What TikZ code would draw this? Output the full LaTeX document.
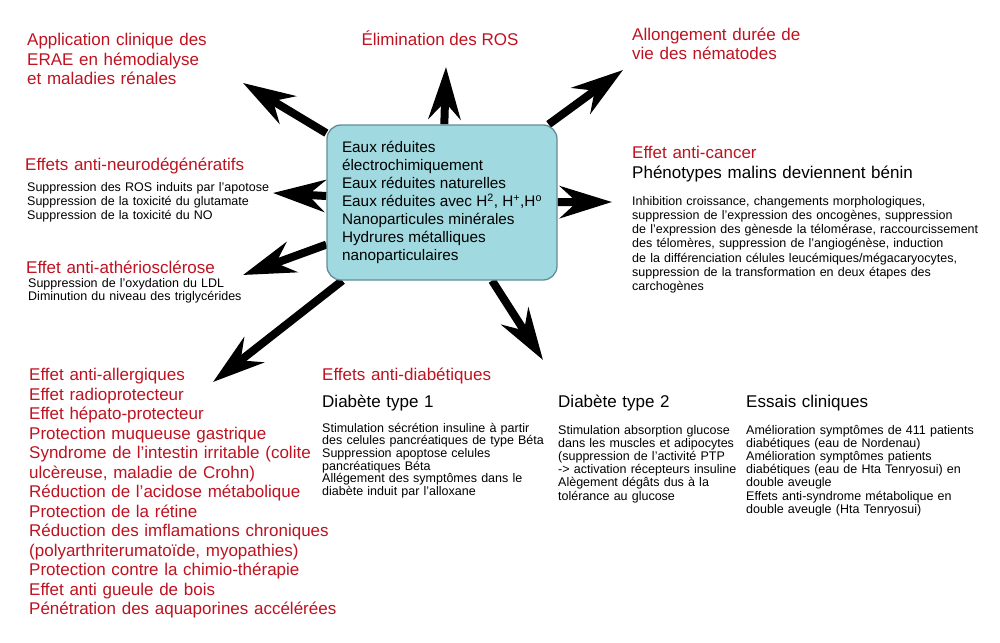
\documentclass[tikz,border=0pt]{standalone}
\usepackage{fontspec}
\setmainfont{Liberation Sans}
\usetikzlibrary{arrows.meta,backgrounds}
\definecolor{rougeeffet}{RGB}{190,18,32}
\definecolor{cyanboite}{RGB}{160,218,224}
\definecolor{bordboite}{RGB}{100,140,150}

\begin{document}
\begin{tikzpicture}[x=1pt, y=-1pt,
    every node/.style={inner sep=0pt},
    bloc/.style={anchor=base west, text width=420pt, align=left},
    titre/.style={bloc, text=rougeeffet, font=\fontsize{17}{19.5}\selectfont},
    soustitre/.style={bloc, font=\fontsize{17}{19}\selectfont},
    corps/.style={bloc, font=\fontsize{12.5}{12.7}\selectfont},
    boite/.style={draw=bordboite, line width=1.3pt, fill=cyanboite, rounded corners=14pt,
        inner xsep=14pt, inner ysep=0pt, align=left,
        minimum width=230pt, minimum height=155pt, font=\fontsize{15.3}{18}\selectfont},
    fleche/.style={-{Stealth[length=52pt, width=32pt, inset=17pt]}, line width=8pt}]
    \useasboundingbox (0,0) rectangle (1000,642);

    % source
    \node[boite] (src) at (442,202.5) {Eaux réduites\\ électrochimiquement\\ Eaux réduites naturelles\\
        Eaux réduites avec H\textsuperscript{2}, H\textsuperscript{+},H\textsuperscript{o}\\
        Nanoparticules minérales\\ Hydrures métalliques\\ nanoparticulaires};

    % effets
    \node[titre] (appli) at (27,45.5) {Application clinique des\\ ERAE en hémodialyse\\ et maladies rénales};
    \node[titre, anchor=base, text width=] (elim) at (440,45.5) {Élimination des ROS};
    \node[titre] (allong) at (632,40.5) {Allongement durée de\\ vie des nématodes};

    \node[titre] (neuro) at (25,170.5) {Effets anti-neurodégénératifs};
    \node[corps, font=\fontsize{12.5}{14}\selectfont] (neuro-txt) at (27,191) {Suppression des ROS induits par l'apotose\\
        Suppression de la toxicité du glutamate\\ Suppression de la toxicité du NO};

    \node[titre] (athero) at (26,273.5) {Effet anti-athériosclérose};
    \node[corps, font=\fontsize{12.5}{13.5}\selectfont] (athero-txt) at (28,287) {Suppression de l'oxydation du LDL\\
        Diminution du niveau des triglycérides};

    \node[titre] (cancer) at (632,158.5) {Effet anti-cancer};
    \node[soustitre] (cancer-sous) at (632,178.5) {Phénotypes malins deviennent bénin};
    \node[corps, font=\fontsize{12.5}{14.3}\selectfont] (cancer-txt) at (632,205) {Inhibition croissance, changements morphologiques,\\
        suppression de l'expression des oncogènes, suppression\\
        de l'expression des gènesde la télomérase, raccourcissement\\
        des télomères, suppression de l'angiogénèse, induction\\
        de la différenciation célules leucémiques/mégacaryocytes,\\
        suppression de la transformation en deux étapes des\\ carchogènes};

    \node[titre] (allerg) at (29,380.5) {Effet anti-allergiques\\ Effet radioprotecteur\\ Effet hépato-protecteur\\
        Protection muqueuse gastrique\\ Syndrome de l’intestin irritable (colite\\ ulcèreuse, maladie de Crohn)\\
        Réduction de l’acidose métabolique\\ Protection de la rétine\\ Réduction des imflamations chroniques\\
        (polyarthriterumatoïde, myopathies)\\ Protection contre la chimio-thérapie\\ Effet anti gueule de bois\\
        Pénétration des aquaporines accélérées};

    \node[titre] (diab) at (322,380.5) {Effets anti-diabétiques};
    \node[soustitre] (type1) at (322,407.5) {Diabète type 1};
    \node[corps] (type1-txt) at (322,432) {Stimulation sécrétion insuline à partir\\ des celules pancréatiques de type Béta\\
        Suppression apoptose celules\\ pancréatiques Béta\\ Allégement des symptômes dans le\\ diabète induit par l'alloxane};
    \node[soustitre] (type2) at (558,407.5) {Diabète type 2};
    \node[corps, font=\fontsize{12.5}{13.2}\selectfont] (type2-txt) at (558,434) {Stimulation absorption glucose\\ dans les muscles et adipocytes\\
        (suppression de l'activité PTP\\ -{}> activation récepteurs insuline\\ Alègement dégâts dus à la\\ tolérance au glucose};
    \node[soustitre] (essais) at (746,407.5) {Essais cliniques};
    \node[corps, font=\fontsize{12.5}{13.2}\selectfont] (essais-txt) at (746,434) {Amélioration symptômes de 411 patients\\
        diabétiques (eau de Nordenau)\\ Amélioration symptômes patients\\ diabétiques (eau de Hta Tenryosui) en\\
        double aveugle\\ Effets anti-syndrome métabolique en\\ double aveugle (Hta Tenryosui)};

    % fleches
    \coordinate (v-appli) at (243,83);
    \coordinate (v-elim) at (446,67);
    \coordinate (v-allong) at (623,70);
    \coordinate (v-cancer) at (612,202);
    \coordinate (v-neuro) at (273,193);
    \coordinate (v-athero) at (243,275);
    \coordinate (v-allerg) at (213,382);
    \coordinate (v-diab) at (543,360);
    \begin{scope}[on background layer]
        \foreach \c in {appli,elim,allong,cancer,neuro,athero,allerg,diab}
            \draw[fleche] (src) -- (v-\c);
    \end{scope}
\end{tikzpicture}
\end{document}
